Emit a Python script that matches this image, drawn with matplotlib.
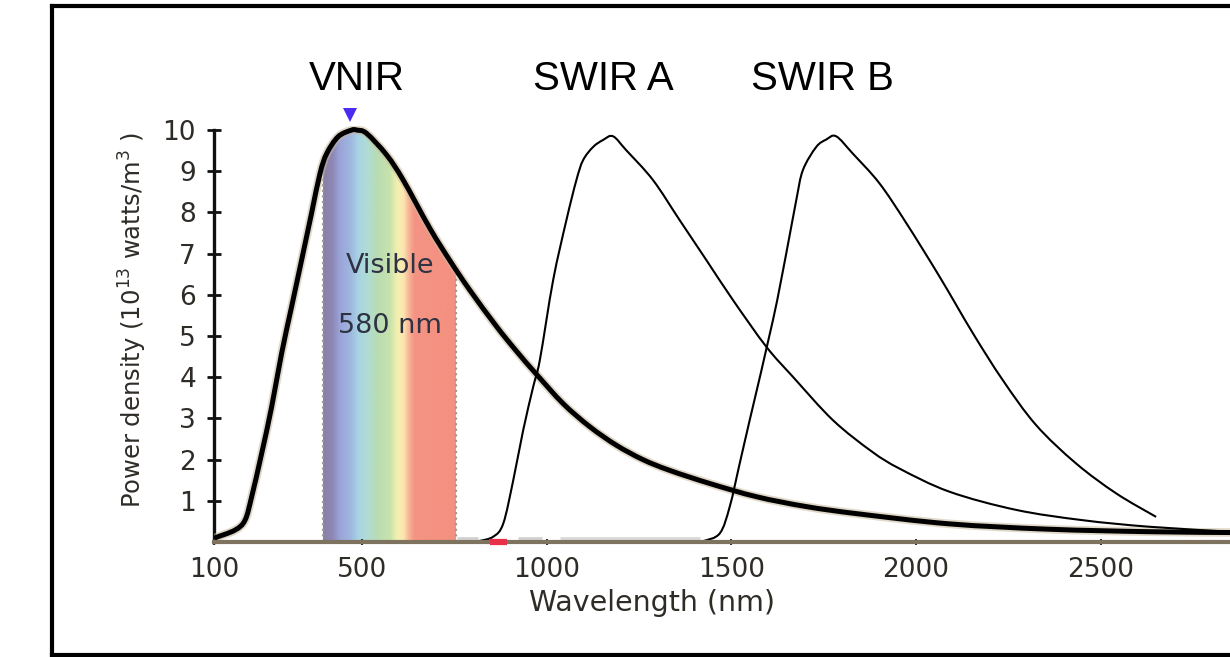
import numpy as np
import matplotlib
matplotlib.use("Agg")
import matplotlib.pyplot as plt
from matplotlib.colors import LinearSegmentedColormap
from matplotlib.lines import Line2D
from matplotlib.path import Path
from matplotlib.patches import PathPatch

# ---------------- data ----------------
# Thick black curve (power density, 10^13 W/m^3)
bb_nm = [100, 103, 157, 184, 202, 229, 256, 283, 310, 337, 364, 387, 405, 436, 472,
         487, 513, 567, 612, 684, 738, 792, 865, 919, 973, 1045, 1117, 1189, 1261,
         1333, 1442, 1568, 1703, 1847, 2091, 2361, 2632, 2850]
bb_val = [0.05, 0.10, 0.29, 0.53, 1.10, 2.15, 3.28, 4.58, 5.71, 6.84, 7.98, 8.95, 9.43, 9.84, 10.0,
          10.0, 9.92, 9.40, 8.79, 7.62, 6.84, 6.12, 5.23, 4.63, 4.07, 3.36, 2.80, 2.35, 2.00,
          1.74, 1.42, 1.10, 0.86, 0.68, 0.44, 0.31, 0.25, 0.23]

# SWIR A thin curve
swa_nm = [790, 815, 856, 883, 910, 937, 964, 982, 1018, 1054, 1081, 1099, 1126, 1153,
          1180, 1216, 1288, 1360, 1433, 1505, 1595, 1667, 1775, 1880, 1956, 2091, 2271,
          2451, 2632, 2850]
swa_val = [0.0, 0.02, 0.13, 0.45, 1.50, 2.72, 3.77, 4.42, 6.36, 7.82, 8.79, 9.27, 9.59, 9.76,
           9.85, 9.51, 8.79, 7.82, 6.84, 5.87, 4.74, 4.01, 2.96, 2.20, 1.78, 1.22, 0.78,
           0.53, 0.37, 0.25]

# SWIR B thin curve
swb_nm = [1400, 1423, 1469, 1496, 1523, 1550, 1613, 1649, 1676, 1694, 1730, 1757,
          1784, 1829, 1901, 1974, 2064, 2154, 2235, 2325, 2433, 2542, 2650]
swb_val = [0.0, 0.02, 0.21, 0.86, 1.91, 2.96, 5.39, 7.01, 8.30, 9.03, 9.59, 9.77,
           9.85, 9.43, 8.71, 7.74, 6.44, 5.07, 3.93, 2.84, 1.91, 1.18, 0.61]

visible_range = [395, 755]
visible_stops = [395, 420, 440, 470, 490, 515, 540, 575, 595, 612, 625, 640, 755]
visible_colors = ['#8a7fa8', '#8e88b6', '#9aa4d8', '#a0b8e0', '#a8d4e4', '#b0dcd4', '#b8dcb4',
                  '#c8e2ac', '#f4f0b0', '#fce6b0', '#f8b898', '#f49484', '#f49080']

xticks = [100, 500, 1000, 1500, 2000, 2500]
yticks = [1, 2, 3, 4, 5, 6, 7, 8, 9, 10]
band_labels = ["VNIR", "SWIR A", "SWIR B"]


def smooth_path(xs, ys):
    """Catmull-Rom style Bezier path through the given points (drawn by matplotlib)."""
    p = np.column_stack([xs, ys]).astype(float)
    verts = [p[0]]
    codes = [Path.MOVETO]
    n = len(p)
    for i in range(n - 1):
        p0 = p[i - 1] if i > 0 else p[i]
        p1 = p[i]
        p2 = p[i + 1]
        p3 = p[i + 2] if i + 2 < n else p[i + 1]
        c1 = p1 + (p2 - p0) / 6.0
        c2 = p2 - (p3 - p1) / 6.0
        verts += [c1, c2, p2]
        codes += [Path.CURVE4] * 3
    return Path(verts, codes)


# ---------------- figure ----------------
W, H = 1230, 657
fig = plt.figure(figsize=(W / 100, H / 100), dpi=100)

ax_left, ax_bottom_px, ax_top_px = 214, 542, 126
ax = fig.add_axes([ax_left / W, (H - ax_bottom_px) / H, (W - ax_left) / W,
                   (ax_bottom_px - ax_top_px) / H])
ax.set_xlim(100, 2850)
ax.set_ylim(0, 10.1)

# visible band gradient clipped under the curve
bb_nm_a = np.array(bb_nm, float)
bb_val_a = np.array(bb_val, float)
inside = (bb_nm_a > visible_range[0]) & (bb_nm_a < visible_range[1])
poly_x = np.concatenate([[visible_range[0]], bb_nm_a[inside], [visible_range[1]]])
poly_y = np.concatenate([[np.interp(visible_range[0], bb_nm_a, bb_val_a)], bb_val_a[inside],
                         [np.interp(visible_range[1], bb_nm_a, bb_val_a)]])
clip = ax.fill_between(poly_x, 0, poly_y, facecolor='none', edgecolor='none')
pos = [(s - visible_stops[0]) / (visible_stops[-1] - visible_stops[0]) for s in visible_stops]
cmap = LinearSegmentedColormap.from_list('vis', list(zip(pos, visible_colors)))
grad = np.linspace(0, 1, 400)[None, :]
im = ax.imshow(grad, cmap=cmap, extent=[visible_range[0], visible_range[1], 0, 10.1],
               aspect='auto', origin='lower', zorder=1)
im.set_clip_path(clip.get_paths()[0], transform=ax.transData)
for xe, ye in zip([poly_x[0], poly_x[-1]], [poly_y[0], poly_y[-1]]):
    ax.plot([xe, xe], [0, ye], linestyle=(0, (1, 1.5)), color='#a09a8c', lw=1.6, zorder=2)

# baseline artifacts
ax.plot([757, 814], [0.07, 0.07], color='#d2d2d2', lw=3.5, solid_capstyle='butt', zorder=2)
ax.plot([922, 987], [0.07, 0.07], color='#d2d2d2', lw=3.5, solid_capstyle='butt', zorder=2)
ax.plot([1036, 1415], [0.07, 0.07], color='#dadada', lw=3.5, solid_capstyle='butt', zorder=2)
ax.plot([846, 892], [0.0, 0.0], color='#e8304a', lw=4.5, solid_capstyle='butt', zorder=6,
        clip_on=False)

# curves
bb_path = smooth_path(bb_nm, bb_val)
ax.add_patch(PathPatch(bb_path, fill=False, edgecolor='#c8b89c', lw=6.2, alpha=0.55,
                       zorder=3, joinstyle='round', capstyle='round'))
ax.add_patch(PathPatch(bb_path, fill=False, edgecolor='black', lw=3.6, zorder=4,
                       joinstyle='round'))
ax.add_patch(PathPatch(smooth_path(swa_nm, swa_val), fill=False, edgecolor='black', lw=1.5,
                       zorder=4, joinstyle='round'))
ax.add_patch(PathPatch(smooth_path(swb_nm, swb_val), fill=False, edgecolor='black', lw=1.5,
                       zorder=4, joinstyle='round'))

# peak marker
ax.plot([468], [10.36], marker='v', color='#4a2cf0', markersize=10, clip_on=False, zorder=5,
        markeredgewidth=0)

# text in band
ax.text(577, 6.70, "Visible", ha='center', va='center', fontsize=19.5,
        color='#2e3242', family='DejaVu Sans', zorder=6)
ax.text(577, 5.24, "580 nm", ha='center', va='center', fontsize=19.5,
        color='#2e3242', family='DejaVu Sans', zorder=6)

# axes styling
for s in ['top', 'right']:
    ax.spines[s].set_visible(False)
ax.spines['left'].set_color('#111111')
ax.spines['left'].set_linewidth(2.4)
ax.spines['left'].set_bounds(0, 10)
ax.spines['bottom'].set_color('#7d735f')
ax.spines['bottom'].set_linewidth(3.0)
ax.spines['bottom'].set_zorder(5)

ax.set_yticks(yticks)
ax.set_yticklabels([str(v) for v in yticks])
ax.set_xticks(xticks)
ax.set_xticklabels([str(v) for v in xticks])
ax.tick_params(axis='y', direction='inout', length=10, width=2.0, color='#111111',
               labelsize=19, labelcolor='#2f2c28', pad=8)
ax.tick_params(axis='x', direction='inout', length=4, width=1.5, color='#3a3020',
               labelsize=19, labelcolor='#2f2c28', pad=9)
for lab in ax.get_xticklabels() + ax.get_yticklabels():
    lab.set_family('DejaVu Sans')

ax.set_xlabel("Wavelength (nm)", fontsize=20.5, color='#2f2c28', family='DejaVu Sans')
ax.xaxis.set_label_coords((651.7 - ax_left) / (W - ax_left), -0.113)
ax.set_ylabel("Power density (10$^{13}$ watts/m$^3$ )", fontsize=17.5, color='#2f2c28',
              family='DejaVu Sans')
ax.yaxis.set_label_coords(-0.064, 0.534)

# band labels on top
for lab, xc in zip(band_labels, [356.7, 603.5, 822.0]):
    fig.text(xc / W, (H - 90) / H, lab, ha='center', va='baseline', fontsize=29,
             family='Liberation Sans', color='black')

# outer frame (open to the right)
frame_lw = 3.0
fig.add_artist(Line2D([52 / W, 52 / W], [(H - 655) / H, (H - 6) / H], color='black',
                      lw=frame_lw, transform=fig.transFigure))
fig.add_artist(Line2D([52 / W, 1.01], [(H - 6) / H, (H - 6) / H], color='black',
                      lw=frame_lw, transform=fig.transFigure))
fig.add_artist(Line2D([52 / W, 1.01], [(H - 655) / H, (H - 655) / H], color='black',
                      lw=frame_lw, transform=fig.transFigure))

fig.savefig("out.png", dpi=100)
